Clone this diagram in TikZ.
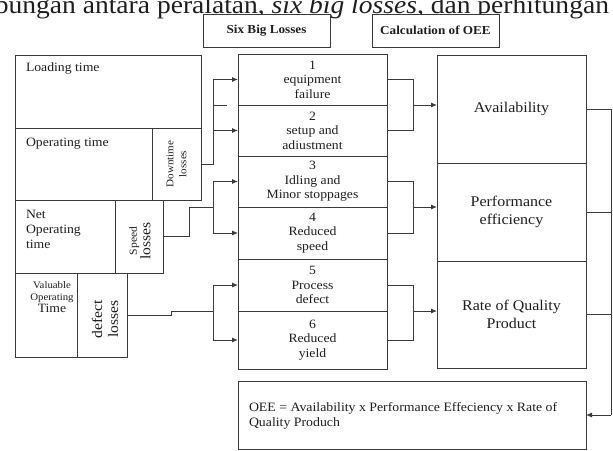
\documentclass[tikz,border=0pt]{standalone}
\usepackage{fontspec}
\setmainfont{Liberation Serif}[FakeStretch=1.08]
\usetikzlibrary{arrows.meta}
\definecolor{linec}{HTML}{3A3A3A}
\definecolor{txtc}{HTML}{1E1E1E}
\newcommand\fsz[2]{\fontsize{#1}{#2}\selectfont}
\begin{document}
\begin{tikzpicture}[x=1pt,y=-1pt,
  box/.style={draw=linec, fill=white, line width=0.9pt, inner sep=0pt, outer sep=0pt,
    anchor=north west, align=center, text=txtc},
  lbl/.style={inner sep=0pt, outer sep=0pt, text=txtc},
  ln/.style={draw=linec, line width=0.9pt},
  arr/.style={ln, -{Latex[length=6pt,width=5pt]}},
  mid/.style={box, minimum width=149pt, font=\fsz{12.7}{14.5}},
  oee/.style={box, minimum width=149pt, font=\fsz{14.8}{18}},
  hdr/.style={box, minimum width=127pt, minimum height=33pt, font=\bfseries\fsz{12.2}{14}},
  rot/.style={lbl, rotate=90, align=center}]
\useasboundingbox (0,0) rectangle (613,450);
\clip (0,0) rectangle (613,450);

% caption fragment at the top
\node[lbl, anchor=base east, font=\fsz{25.5}{28}] (cap) at (609,13.5)
  {bungan antara peralatan, \textit{six big losses}, dan perhitungan};

% headers
\node[hdr] (hsix) at (203,14) {Six Big Losses};
\node[hdr] (hcalc) at (372,14) {Calculation of OEE};

% left stack
\node[box, minimum width=186pt, minimum height=73pt] (load) at (15,55) {};
\node[box, minimum width=137pt, minimum height=72pt] (optime) at (15,128) {};
\node[box, minimum width=49pt, minimum height=72pt] (down) at (152,128) {};
\node[box, minimum width=100pt, minimum height=73pt] (netop) at (15,200) {};
\node[box, minimum width=48pt, minimum height=73pt] (speed) at (115,200) {};
\node[box, minimum width=62pt, minimum height=84pt] (valop) at (15,273) {};
\node[box, minimum width=50pt, minimum height=84pt] (defect) at (77,273) {};

\node[lbl, anchor=base west, font=\fsz{12.7}{15}] (loadt) at (26,71) {Loading time};
\node[lbl, anchor=base west, font=\fsz{12.7}{15}] (optimet) at (26,146) {Operating time};
\node[lbl, anchor=west, align=left, font=\fsz{12.7}{15}] (netopt) at (26,229) {Net\\Operating\\time};
\node[lbl, align=center] (valopt) at (52,297)
  {\fsz{10}{12}Valuable\\\fsz{10}{12}Operating\\\fsz{12.7}{13}Time};
\node[rot, font=\fsz{10.3}{13}] (downt) at (176.5,164) {Downtime\\losses};
\node[rot] (speedt) at (140,241) {\fsz{10.8}{16}Speed\\\fsz{14.5}{16}losses};
\node[rot, font=\fsz{14.5}{16}] (defectt) at (105,319) {defect\\losses};

% six big losses
\node[mid, minimum height=51pt] (l1) at (238,54) {1\\equipment\\failure};
\node[mid, minimum height=51pt] (l2) at (238,105) {2\\setup and\\adiustment};
\node[mid, minimum height=51pt] (l3) at (238,156) {3\\Idling and\\Minor stoppages};
\node[mid, minimum height=52pt] (l4) at (238,207) {4\\Reduced\\speed};
\node[mid, minimum height=52pt] (l5) at (238,259) {5\\Process\\defect};
\node[mid, minimum height=58pt] (l6) at (238,311) {6\\Reduced\\yield};

% OEE column
\node[oee, minimum height=108pt] (avail) at (437,55) {Availability};
\node[oee, minimum height=98pt] (perf) at (437,163) {Performance\\efficiency};
\node[oee, minimum height=107pt] (rate) at (437,261) {Rate of Quality\\Product};

% formula
\node[box, minimum width=348pt, minimum height=68pt] (formula) at (238,381) {};
\node[lbl, anchor=west, align=left, font=\fsz{12.8}{15}] (formt) at (249,415.5)
  {OEE = Availability x Performance Effeciency x Rate of\\Quality Produch};

% junction x positions
\coordinate (dj) at (213,0);
\coordinate (sj) at (189,0);
\coordinate (fj) at (171,0);
\coordinate (bj) at (413,0);
\coordinate (oj) at (611,0);

% downtime losses -> 1, 2
\draw[ln] (down.east) -- (dj |- down.east) -- (dj |- l1.west);
\draw[arr] (dj |- l1.west) -- (l1.west);
\draw[arr] (dj |- l2.west) -- (l2.west);
\draw[ln] (dj |- l1.south) -- ++(14,0);

% speed losses -> 3, 4
\draw[ln] (speed.east) -- (sj |- speed.east) -- (sj |- l3.south) -- (dj |- l3.south);
\draw[ln] (dj |- l3.west) -- (dj |- l4.west);
\draw[arr] (dj |- l3.west) -- (l3.west);
\draw[arr] (dj |- l4.west) -- (l4.west);

% defect losses -> 5, 6
\draw[ln] (defect.east) -- (fj |- defect.east) -- (fj |- l5.south) -- (dj |- l5.south);
\draw[ln] (dj |- l5.west) -- (dj |- l6.west);
\draw[arr] (dj |- l5.west) -- (l5.west);
\draw[arr] (dj |- l6.west) -- (l6.west);

% brackets to OEE column
\draw[ln] (l1.east) -- (bj |- l1.east) -- (bj |- l2.east) -- (l2.east);
\draw[arr] (bj |- l1.south) -- (avail.west |- l1.south);
\draw[ln] (l3.east) -- (bj |- l3.east) -- (bj |- l4.east) -- (l4.east);
\draw[arr] (bj |- l3.south) -- (perf.west |- l3.south);
\draw[ln] (l5.east) -- (bj |- l5.east) -- (bj |- l6.east) -- (l6.east);
\draw[arr] (bj |- l5.south) -- (rate.west |- l5.south);

% OEE column -> formula
\draw[ln] (avail.east) -- (oj |- avail.east) -- (oj |- formula.east);
\draw[ln] (perf.east) -- (oj |- perf.east);
\draw[ln] (rate.east) -- (oj |- rate.east);
\draw[arr] (oj |- formula.east) -- (formula.east);
\end{tikzpicture}
\end{document}
